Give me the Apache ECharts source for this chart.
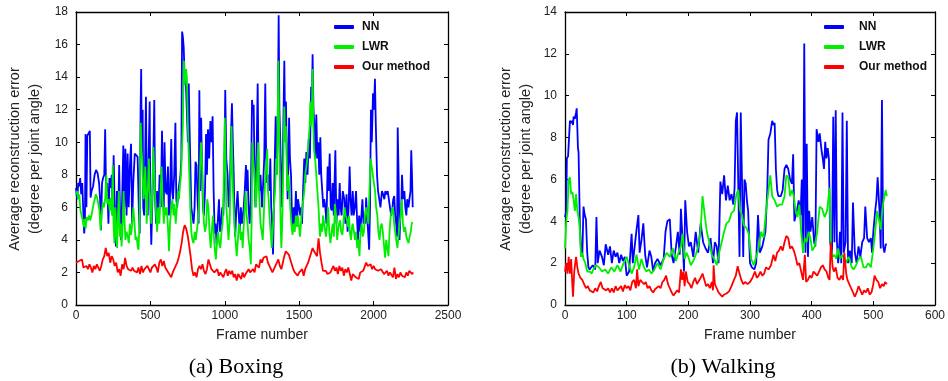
<!DOCTYPE html>
<html>
<head>
<meta charset="utf-8">
<script src="https://cdn.jsdelivr.net/npm/echarts@6/dist/echarts.min.js"></script>
<style>
html,body{margin:0;padding:0;background:#fff;}
#chart{width:948px;height:381px;}
</style>
</head>
<body>
<div id="chart"></div>
<script>
// ---------- Data ----------
const seriesNames = ['NN', 'LWR', 'Our method'];
const boxingXTicks = [0, 500, 1000, 1500, 2000, 2500];
const boxingYTicks = [0, 2, 4, 6, 8, 10, 12, 14, 16, 18];
const walkingXTicks = [0, 100, 200, 300, 400, 500, 600];
const walkingYTicks = [0, 2, 4, 6, 8, 10, 12, 14];

// Boxing: [frame, error]
const boxingNN = [[0,7.2],[8,6.5],[15,7.5],[22,7.3],[28,7.8],[35,6.8],[42,7.5],[48,6],[55,4.4],[60,5],[64,10.5],[70,6],[76,10.4],[85,10.5],[93,10.7],[98,6.6],[105,7],[115,7.3],[125,8],[135,8.3],[145,8.1],[155,7.5],[162,6.5],[168,4.6],[175,7.5],[182,7.8],[190,8],[196,10.8],[202,7],[210,7.5],[218,5],[225,7.8],[232,7.2],[240,8],[248,5.5],[253,9.2],[260,6],[268,3.6],[275,7],[283,5],[290,8.6],[296,5.5],[302,4],[310,6.5],[318,9.8],[325,6],[332,9.6],[340,5.5],[347,9.3],[354,6],[362,8.5],[370,9.9],[377,5],[385,7.5],[395,9.3],[405,9.2],[414,9.1],[422,6],[428,4.4],[434,12],[438,14.5],[442,9],[448,12],[452,6],[458,5.5],[463,8],[470,12.8],[476,7],[482,5.5],[488,9],[495,12.5],[500,6],[506,3.7],[512,6],[518,8],[526,12.6],[532,6.5],[538,5],[545,7],[553,5.5],[562,8],[570,6],[578,10.7],[585,7],[590,6],[595,10],[602,7],[610,6.8],[618,8.5],[624,5.5],[630,6],[640,10.2],[646,7],[652,6.5],[660,8],[668,11.2],[674,6.5],[680,6],[688,7],[695,7.5],[702,8],[708,9],[713,16.8],[718,16.5],[724,15.8],[730,14],[738,13.8],[746,13.7],[752,10],[758,13.6],[763,11],[770,8],[775,6],[782,5.5],[790,5],[797,6],[803,8.8],[810,8.6],[817,6.5],[824,5],[829,13.2],[835,7],[841,11.5],[846,9],[853,6],[860,5.5],[867,7],[874,10.5],[880,8],[887,10.8],[895,9],[903,11.3],[910,10],[918,11.6],[925,7],[932,4.4],[938,5],[945,3.7],[952,5],[961,6.5],[968,4.5],[975,5],[983,6],[990,5.5],[997,8],[1003,13.2],[1010,9],[1019,8],[1026,6],[1033,6.5],[1040,10],[1048,12.4],[1054,10],[1060,8],[1066,5],[1070,4.2],[1078,6],[1086,7],[1094,5.5],[1100,4.5],[1108,6],[1115,5],[1122,5.5],[1127,6],[1134,7],[1142,8.6],[1148,7],[1153,8.3],[1160,6],[1167,5],[1175,6.5],[1183,12.6],[1188,12],[1194,12.3],[1200,8],[1206,6],[1213,9],[1221,13.6],[1227,8],[1233,7],[1240,8],[1250,6],[1258,7.5],[1265,9],[1272,13.6],[1278,9],[1285,7.5],[1292,8],[1300,7],[1306,9],[1312,6],[1318,5],[1324,3.1],[1330,6],[1336,9],[1342,11.6],[1348,8],[1355,10],[1362,17.8],[1367,12],[1373,10],[1378,8],[1384,6],[1390,9],[1395,12],[1400,15],[1405,11],[1411,12.5],[1417,9],[1422,6.5],[1428,9],[1432,11.5],[1438,9],[1445,8],[1450,6],[1456,4.6],[1463,6],[1470,5],[1478,7],[1485,5],[1492,6.5],[1500,6.5],[1507,5.5],[1513,6],[1519,5],[1526,7],[1534,9],[1541,7.5],[1548,9.4],[1556,8],[1564,10.2],[1572,9],[1580,13.4],[1585,12],[1590,15.4],[1596,12],[1602,11],[1608,9],[1615,11.7],[1622,9],[1628,10],[1635,8],[1642,10.3],[1648,8],[1655,7],[1662,6],[1668,6.5],[1676,6],[1683,5],[1691,8.5],[1697,7],[1705,9.3],[1712,6],[1718,5.8],[1725,7.5],[1732,5.5],[1743,9.5],[1750,5],[1758,6.5],[1765,5.5],[1772,7.5],[1778,6],[1785,5.5],[1793,7],[1803,6.5],[1810,5],[1818,6.8],[1825,4.5],[1832,6],[1839,8.5],[1845,6.5],[1852,5.5],[1860,7],[1866,5.5],[1874,6],[1882,7],[1888,5.5],[1895,4],[1903,5.5],[1911,4.5],[1918,5.5],[1925,6.5],[1932,5],[1940,5.5],[1944,5],[1950,6.6],[1956,5.5],[1963,4.5],[1970,3.4],[1976,6],[1982,12],[1988,10],[1996,13],[2003,12],[2009,13.9],[2015,11],[2023,8],[2030,7],[2038,6.5],[2046,6],[2056,7],[2064,6.8],[2072,6.5],[2079,7],[2088,6.8],[2095,7],[2101,6.6],[2110,6],[2118,5.5],[2125,5.8],[2132,6.5],[2139,6.7],[2145,5.5],[2152,5],[2158,4.2],[2162,10.9],[2168,8],[2174,4],[2180,5.5],[2186,6],[2191,8],[2198,6.5],[2207,7],[2213,6],[2220,5.5],[2226,6.5],[2234,6],[2242,6.6],[2248,7],[2253,9.5],[2258,8],[2263,6]];

const boxingLWR = [[0,6.8],[8,7],[15,6.5],[22,6.8],[30,5.8],[38,5.5],[45,5.2],[52,4.8],[58,5.3],[65,4.7],[72,5.4],[80,5.2],[88,5.5],[95,5.2],[102,5.4],[110,5.8],[118,6.2],[126,6.5],[134,6.8],[142,6.6],[150,6.2],[158,5.8],[165,4.6],[172,5.5],[180,6.3],[188,6],[196,6.5],[204,8],[210,6.2],[218,6.5],[226,5.8],[234,6.6],[242,5.5],[247,8.6],[252,5],[258,3.8],[264,6],[270,4.5],[276,3.5],[282,5.5],[288,7],[294,4.2],[300,5],[306,3.6],[312,4.5],[320,7],[326,5.2],[332,4],[340,4.5],[348,4.2],[355,3.8],[362,5],[370,4.3],[378,5],[385,6],[392,5.2],[400,4],[408,4.2],[414,3.6],[420,3.4],[427,5],[435,11.2],[440,9.5],[445,9],[450,7.5],[455,6.5],[460,7.2],[465,8.5],[470,7],[475,5],[480,6.5],[486,8],[490,9],[495,7],[500,6.5],[505,5],[510,6],[515,8],[520,9.7],[525,8.5],[530,7],[536,6],[545,4.5],[552,6],[560,5],[567,6.5],[575,8.5],[582,6.5],[590,5],[597,6],[604,5.5],[610,6],[617,5],[625,3.3],[632,5],[640,6],[648,6.5],[655,5.5],[662,6.2],[670,5],[678,6],[685,7],[692,6.5],[700,7.5],[706,8],[712,8],[718,11],[725,15],[730,13.5],[735,13.5],[740,14.5],[745,14],[752,11],[760,8.5],[768,6],[775,4.5],[782,4],[790,3.8],[798,4.5],[805,4],[810,4],[818,5],[825,6],[832,8],[840,10],[845,9],[850,8],[855,6],[860,5],[868,4.5],[875,5],[882,6.5],[890,6],[897,4.5],[905,3.5],[912,4.5],[920,5.5],[928,4],[935,3.2],[940,2.8],[948,4],[955,4.5],[962,3.8],[970,3.5],[978,4.5],[985,5],[992,7],[1000,11.5],[1005,9],[1010,6],[1018,5],[1025,4],[1032,5],[1040,8],[1045,11],[1050,9],[1055,7],[1060,6],[1065,5],[1072,4],[1080,3],[1088,4],[1095,5],[1100,4.8],[1108,4],[1115,4.5],[1120,3.5],[1128,5],[1134,6],[1140,7],[1147,5.5],[1153,5],[1160,4],[1168,3.5],[1175,2.5],[1180,5],[1185,10],[1190,9],[1195,8.5],[1200,8],[1208,6],[1215,7],[1220,9],[1225,10],[1230,7],[1235,6],[1240,5],[1248,4.5],[1255,4],[1262,5.5],[1270,7.5],[1278,8.5],[1285,9.6],[1290,7],[1295,6.5],[1300,5.5],[1308,4.5],[1315,3.5],[1322,4.5],[1330,6],[1338,7],[1345,9],[1350,8],[1355,11],[1360,15],[1365,11],[1370,8],[1375,5],[1380,3.5],[1386,5],[1392,8],[1400,12.2],[1405,10],[1410,11],[1415,9.5],[1420,7],[1428,8],[1434,7],[1440,6],[1447,5],[1455,4.3],[1462,5],[1470,4.5],[1478,5.5],[1485,4.8],[1490,5.5],[1497,5],[1505,4.2],[1512,5],[1520,6],[1528,6.5],[1534,7],[1540,8],[1548,8.5],[1555,9],[1562,10],[1570,11],[1575,12.5],[1580,11],[1585,12],[1590,14.5],[1595,11],[1600,9.5],[1607,9],[1615,8],[1622,7],[1630,6],[1635,5],[1640,4.2],[1648,5],[1655,4.5],[1660,5.5],[1668,5],[1675,4.5],[1680,4.2],[1688,5],[1695,6],[1702,4.5],[1710,3.8],[1718,4.5],[1725,5],[1733,4.2],[1740,6.2],[1748,5.5],[1755,4],[1760,4.5],[1768,5],[1775,5.2],[1782,4.5],[1790,4.3],[1797,5],[1805,6],[1812,5.5],[1820,5.3],[1828,4.8],[1835,5.5],[1840,4.5],[1848,4],[1855,4.8],[1860,5],[1868,4.5],[1875,4],[1882,4.5],[1890,3.5],[1897,4],[1905,3],[1912,4.5],[1920,5],[1927,4.2],[1935,4.5],[1942,5.5],[1950,6],[1957,5.5],[1965,5],[1972,7],[1980,9],[1987,8.5],[1995,8],[2002,7.5],[2010,7],[2017,6],[2025,5.5],[2032,4.5],[2040,4],[2047,4.8],[2055,5],[2062,4.5],[2070,4.5],[2077,2.9],[2085,4],[2092,3.5],[2100,3],[2107,4.5],[2115,5.5],[2122,5.8],[2130,6],[2138,5],[2145,4.5],[2152,4],[2160,3.5],[2167,4.2],[2175,5],[2182,5.5],[2190,6.5],[2197,5],[2205,4.5],[2212,4.8],[2220,4.2],[2227,4],[2235,3.8],[2242,4.2],[2250,4.5],[2256,5],[2262,5.1]];

const boxingOurs = [[0,2.6],[10,2.5],[20,2.7],[30,2.6],[40,2.8],[50,2.3],[60,2.2],[70,2.4],[80,2.2],[90,2.5],[100,2.3],[110,2.0],[120,2.4],[130,2.2],[140,2.5],[150,2.3],[160,2.1],[170,2.4],[180,2.8],[190,3.0],[200,3.5],[210,3.0],[220,3.2],[230,2.6],[240,3.0],[250,2.8],[260,2.4],[270,2.6],[280,2.0],[290,2.2],[300,1.8],[310,2.5],[320,2.2],[330,2.9],[340,2.4],[350,2.2],[360,2.3],[370,2.1],[380,2.3],[390,2.1],[400,2.2],[410,2.0],[420,2.3],[430,1.9],[440,2.4],[450,2.0],[460,2.2],[470,2.1],[480,2.4],[490,2.2],[500,2.0],[510,2.3],[520,2.2],[530,2.5],[540,2.3],[550,2.0],[560,2.6],[570,2.8],[580,2.4],[590,2.7],[600,2.3],[610,2.2],[620,2.0],[630,1.9],[640,1.7],[650,2.0],[660,2.1],[670,2.4],[680,2.6],[690,2.9],[700,3.3],[710,3.8],[720,4.5],[730,4.9],[740,4.7],[750,4.3],[760,3.7],[770,3.0],[780,2.2],[790,1.8],[800,2.0],[810,1.7],[820,2.2],[830,2.4],[840,2.2],[850,2.5],[860,2.1],[870,1.9],[880,2.2],[890,2.8],[900,2.7],[910,2.2],[920,2.3],[930,2.0],[940,1.9],[950,2.2],[960,1.8],[970,2.0],[980,2.1],[990,1.7],[1000,2.0],[1010,2.2],[1020,1.8],[1030,2.1],[1040,1.9],[1050,2.1],[1060,1.7],[1070,1.9],[1080,1.5],[1090,1.9],[1100,1.8],[1110,1.6],[1120,2.0],[1130,1.7],[1140,1.9],[1150,1.8],[1160,2.2],[1170,2.0],[1180,1.9],[1190,2.2],[1200,2.0],[1210,2.5],[1220,2.6],[1230,2.3],[1240,2.8],[1250,2.6],[1260,2.9],[1270,2.8],[1280,3.0],[1290,2.6],[1300,2.4],[1310,2.2],[1320,2.0],[1330,2.2],[1340,2.3],[1350,2.6],[1360,2.8],[1370,2.4],[1380,2.2],[1390,2.6],[1400,3.0],[1410,3.3],[1420,3.4],[1430,3.1],[1440,2.8],[1450,2.5],[1460,2.2],[1470,2.0],[1480,2.1],[1490,1.8],[1500,2.0],[1510,1.9],[1520,2.2],[1530,1.8],[1540,2.2],[1550,2.4],[1560,2.6],[1570,2.9],[1580,3.2],[1590,3.5],[1600,3.3],[1610,3.4],[1620,3.0],[1630,4.1],[1640,3.2],[1650,2.6],[1660,2.1],[1670,2.0],[1680,2.1],[1690,1.9],[1700,2.0],[1710,2.0],[1720,2.2],[1730,2.4],[1740,2.1],[1750,2.3],[1760,1.9],[1770,2.4],[1780,2.1],[1790,2.3],[1800,1.8],[1810,2.2],[1820,2.0],[1830,2.3],[1840,1.9],[1850,1.5],[1860,1.9],[1870,2.0],[1880,1.7],[1890,1.8],[1900,1.6],[1910,2.0],[1920,1.9],[1930,2.1],[1940,2.0],[1950,2.6],[1960,2.4],[1970,2.3],[1980,2.5],[1990,2.2],[2000,2.4],[2010,2.2],[2020,2.3],[2030,2.1],[2040,2.0],[2050,2.2],[2060,2.1],[2070,1.9],[2080,2.0],[2090,2.1],[2100,1.8],[2110,2.0],[2120,1.9],[2130,1.7],[2140,2.3],[2150,1.6],[2160,1.9],[2170,1.7],[2180,2.0],[2190,1.8],[2200,1.9],[2210,1.7],[2220,2.0],[2230,1.8],[2240,2.1],[2250,2.0],[2260,1.9],[2265,2.0]];

// Walking: [frame, error]
const walkingNN = [[0,4.2],[2,4.5],[3,7],[5,7.1],[7,7.1],[8,8.8],[10,8.7],[12,8.8],[13,8.6],[14,9],[16,8.9],[18,9.2],[19,9.4],[21,7.5],[22,7.3],[24,4],[26,2.5],[28,2.3],[30,4.7],[32,4.3],[34,4.1],[36,2.5],[38,1.8],[40,1.7],[45,1.9],[49,1.7],[51,4.2],[53,2],[56,2.6],[60,2.3],[63,1.9],[66,2.9],[70,2.4],[73,2.8],[76,2],[79,2.6],[82,2.3],[85,2.5],[88,2],[91,2.4],[94,2.1],[97,2.3],[100,1.4],[104,1.6],[108,3.4],[110,2],[113,2.8],[116,3.6],[119,4.3],[121,2.5],[124,3.1],[127,3.9],[130,2.4],[133,1.8],[137,2.6],[140,2.3],[143,1.6],[146,2],[150,2.2],[155,1.9],[160,2.2],[163,3.5],[166,4],[170,4.1],[173,2.4],[176,2],[180,2.8],[183,3.5],[186,2.4],[188,4.6],[191,2.9],[193,1.6],[195,5],[198,3.5],[201,2.8],[204,3],[208,2.3],[212,3.5],[216,2.5],[220,3.9],[224,3],[228,2.7],[232,2.5],[236,3.2],[240,2],[243,3],[246,2.8],[249,2],[252,5.9],[255,5.3],[258,6.2],[261,5],[264,5.7],[267,5],[270,5.3],[273,4.8],[275,5.6],[277,8.8],[279,9.2],[281,9.2],[283,2.3],[285,9.2],[287,6],[289,2.3],[291,6],[293,5.8],[295,5],[297,4.5],[300,2],[303,1.8],[307,1.7],[310,2],[313,4.3],[316,2.5],[320,2.8],[325,3.5],[328,5.5],[330,7.9],[333,8.2],[336,8.8],[338,8.6],[340,8.7],[342,6.5],[344,5.5],[346,5.2],[350,5.2],[353,5.5],[356,6.5],[359,6.7],[362,6.5],[365,6],[368,5.8],[370,7.2],[372,4],[376,4.5],[379,5],[382,4.3],[384,6],[386,2.5],[388,12.5],[390,2.5],[392,7.7],[394,2.3],[396,4.5],[398,3.5],[401,4.2],[404,3],[406,2.8],[408,8.4],[411,7.8],[413,8.2],[416,7.4],[418,7],[420,6.5],[422,7.8],[424,7],[426,7.5],[428,7],[430,3],[433,2.5],[435,9],[437,3],[439,9.3],[441,3],[443,2],[446,3.5],[448,2],[450,9.2],[452,2.5],[455,3],[457,8.8],[459,2],[462,2.6],[465,2],[467,4.9],[470,2.5],[473,2],[476,2.8],[479,2.3],[482,3],[485,3.2],[487,4.7],[490,3.2],[493,3],[496,3.2],[498,2.5],[500,3.5],[503,4.5],[505,5],[507,6.1],[510,4.5],[512,2.7],[514,9.8],[516,2.8],[518,2.5],[520,2.9],[522,2.9]];

const walkingLWR = [[0,2.7],[2,4],[4,4.5],[6,6],[8,6.1],[10,5.3],[12,5.4],[14,5],[16,4.5],[18,5.3],[20,4.5],[22,4.2],[24,3.6],[26,2.3],[28,2.5],[30,2.2],[33,2],[36,1.6],[40,1.6],[43,1.5],[46,1.7],[50,1.9],[55,1.8],[60,1.6],[65,1.7],[70,1.5],[75,1.8],[80,1.6],[85,1.9],[90,1.6],[95,2],[100,2.3],[104,1.9],[108,1.5],[112,1.8],[116,2.4],[120,1.7],[124,2.2],[128,1.8],[132,1.6],[136,1.7],[140,1.5],[145,1.7],[150,2],[155,1.7],[160,2.2],[165,2.5],[170,2.3],[175,2.7],[180,2.1],[184,2.5],[188,2.8],[191,3.4],[194,2.2],[197,2.5],[200,2.3],[204,1.9],[208,2.1],[212,2.4],[216,2.8],[220,3.6],[223,5.2],[227,4.2],[230,3.5],[234,3],[238,2.4],[242,2.2],[246,1.9],[250,2.5],[254,3],[258,3.5],[262,3.9],[266,4],[270,4.4],[274,4.5],[278,5.3],[281,5.5],[284,4.5],[287,4.3],[290,3.8],[294,3.7],[298,3.4],[302,2.2],[306,1.9],[310,2.3],[314,2.7],[318,3.5],[322,3.2],[326,4.5],[330,5.5],[333,6.2],[336,5.2],[340,5],[344,4.7],[348,4.8],[352,4.8],[356,5.2],[359,6.2],[362,6.1],[365,5.2],[368,5.5],[371,5.2],[374,4.5],[377,4.2],[380,4.8],[383,3.5],[386,2.5],[389,3.2],[392,3],[395,3.5],[398,3.2],[401,2.6],[405,2.8],[409,3.5],[413,4.7],[417,4.6],[421,4.2],[425,4.5],[429,5.6],[431,2.8],[434,2.3],[437,2.4],[440,2.2],[443,2.7],[446,2.2],[450,2.4],[455,2],[460,2.3],[465,1.8],[468,1.7],[472,1.9],[476,2.2],[480,2.3],[484,1.8],[488,1.8],[492,2],[496,1.8],[500,2.7],[503,3.5],[506,4.5],[509,4.1],[512,3.6],[515,4.7],[518,4.7],[520,5.5],[522,5.2]];

const walkingOurs = [[0,1.6],[2,2],[4,1.5],[6,2.3],[8,1.5],[10,2.2],[12,0.9],[13,0.4],[15,1.6],[17,2.1],[18,2.3],[20,1.8],[22,1.5],[25,1.3],[28,1.2],[31,1],[34,0.8],[37,0.9],[40,0.7],[43,0.75],[46,0.6],[49,0.8],[52,0.65],[55,0.9],[58,1.1],[61,0.8],[64,0.75],[67,0.7],[70,0.8],[73,0.6],[76,0.8],[79,0.6],[82,0.9],[85,0.7],[88,0.75],[91,0.9],[94,0.65],[97,0.95],[100,0.8],[103,0.9],[106,0.7],[109,1.1],[112,1.2],[115,0.8],[117,1.7],[119,0.9],[122,1.2],[125,1.1],[128,1.0],[131,1.1],[134,0.8],[137,0.9],[140,0.7],[143,0.6],[146,0.75],[149,0.7],[152,0.9],[155,0.8],[158,1.1],[161,1.2],[164,1.4],[167,1.0],[170,0.8],[173,0.6],[176,0.45],[179,0.5],[182,0.7],[185,0.6],[188,1.7],[190,1.2],[192,1.6],[194,0.9],[196,1.6],[199,1.1],[202,1.0],[205,0.8],[208,1.1],[211,1.3],[214,1.0],[217,1.0],[220,1.3],[223,1.5],[226,1.2],[229,0.9],[232,1.0],[235,0.8],[238,1.1],[240,0.7],[241,1.9],[243,1.0],[246,0.8],[249,0.6],[252,0.5],[255,0.4],[258,0.5],[262,0.55],[266,0.65],[270,0.9],[274,1.2],[277,1.4],[280,1.85],[283,1.5],[286,1.2],[289,1.0],[292,1.1],[296,1.0],[300,1.1],[304,1.3],[308,1.6],[311,1.3],[314,1.4],[317,1.6],[320,1.4],[323,1.5],[326,1.8],[330,1.7],[334,1.9],[338,2.4],[341,2.1],[344,2.5],[347,2.6],[350,2.8],[353,2.6],[356,3.0],[359,3.3],[362,3.2],[365,2.7],[368,2.8],[371,2.6],[374,2.3],[377,1.9],[380,2.0],[383,1.6],[386,1.2],[389,2.4],[391,1.1],[394,1.2],[397,1.4],[400,1.3],[403,1.6],[406,1.5],[409,1.4],[412,1.6],[415,1.8],[418,1.9],[421,1.7],[424,1.6],[427,1.3],[429,1.2],[431,3.0],[434,1.8],[436,1.6],[439,1.8],[442,1.3],[445,1.2],[448,1.4],[451,1.2],[453,2.5],[456,1.5],[458,1.2],[461,1.0],[464,0.8],[467,0.6],[470,0.4],[473,0.6],[476,0.9],[479,0.7],[482,0.5],[485,0.7],[488,0.6],[491,0.8],[494,0.5],[497,0.6],[500,1.0],[502,1.4],[505,1.2],[508,1.1],[511,0.8],[514,1.0],[517,0.9],[519,1.1],[522,1.0]];

// ---------- Chart ----------
const SANS = '"Liberation Sans", Arial, Helvetica, sans-serif';
const SERIF = '"Liberation Serif", "Times New Roman", serif';
const colors = ['#0000ff', '#00ee00', '#ff0000'];

function mkX(gridIndex, ticks, pos, withLabels) {
  const step = ticks[1] - ticks[0];
  return {
    type: 'value', gridIndex: gridIndex, position: pos,
    min: ticks[0], max: ticks[ticks.length - 1], interval: step,
    axisLine: { show: true, onZero: false, lineStyle: { color: '#000', width: 1.3 } },
    axisTick: { show: true, inside: true, length: 4, lineStyle: { color: '#000', width: 1 } },
    axisLabel: { show: withLabels, fontFamily: SANS, fontSize: 12, color: '#222', margin: 5,
                 formatter: function (v) { return String(v); } },
    splitLine: { show: false },
    name: withLabels ? 'Frame number' : '',
    nameLocation: 'middle', nameGap: 23,
    nameTextStyle: { fontFamily: SANS, fontSize: 14, color: '#222' }
  };
}
function mkY(gridIndex, ticks, pos, withLabels) {
  const step = ticks[1] - ticks[0];
  return {
    type: 'value', gridIndex: gridIndex, position: pos,
    min: ticks[0], max: ticks[ticks.length - 1], interval: step,
    axisLine: { show: true, onZero: false, lineStyle: { color: '#000', width: 1.3 } },
    axisTick: { show: true, inside: true, length: 4, lineStyle: { color: '#000', width: 1 } },
    axisLabel: { show: withLabels, fontFamily: SANS, fontSize: 12, color: '#222', margin: 8,
                 formatter: function (v) { return String(v); } },
    splitLine: { show: false }
  };
}
function mkLine(name, data, idx, colorIdx) {
  return {
    type: 'line', name: name, data: data,
    xAxisIndex: idx, yAxisIndex: idx,
    showSymbol: false, symbol: 'none', smooth: false,
    lineStyle: { color: colors[colorIdx], width: 1.8 },
    itemStyle: { color: colors[colorIdx] },
    z: 2 + colorIdx
  };
}
function mkLegend(left, textPad) {
  return {
    left: left, top: 21, orient: 'vertical', padding: 0,
    icon: 'roundRect', itemWidth: 20, itemHeight: 4, itemGap: 8,
    data: seriesNames,
    textStyle: { fontFamily: SANS, fontSize: 12, fontWeight: 'bold', color: '#111', padding: [0, 0, 0, textPad] }
  };
}

const chart = echarts.init(document.getElementById('chart'), null, { renderer: 'canvas' });
chart.setOption({
  animation: false,
  backgroundColor: '#fff',
  grid: [
    { left: 76, top: 12, width: 372, height: 293, show: false },
    { left: 565, top: 12, width: 374, height: 293, show: false }
  ],
  xAxis: [
    mkX(0, boxingXTicks, 'bottom', true),
    mkX(1, walkingXTicks, 'bottom', true),
    mkX(0, boxingXTicks, 'top', false),
    mkX(1, walkingXTicks, 'top', false)
  ],
  yAxis: [
    mkY(0, boxingYTicks, 'left', true),
    mkY(1, walkingYTicks, 'left', true),
    mkY(0, boxingYTicks, 'right', false),
    mkY(1, walkingYTicks, 'right', false)
  ],
  legend: [mkLegend(334, 3), mkLegend(824, 10)],
  series: [
    mkLine(seriesNames[0], boxingNN, 0, 0),
    mkLine(seriesNames[1], boxingLWR, 0, 1),
    mkLine(seriesNames[2], boxingOurs, 0, 2),
    mkLine(seriesNames[0], walkingNN, 1, 0),
    mkLine(seriesNames[1], walkingLWR, 1, 1),
    mkLine(seriesNames[2], walkingOurs, 1, 2)
  ],
  graphic: [
    { type: 'text', x: 15, y: 159, rotation: Math.PI / 2,
      style: { text: 'Average reconstruction error', font: '14.5px ' + SANS, fill: '#222', align: 'center', verticalAlign: 'middle' } },
    { type: 'text', x: 35, y: 159, rotation: Math.PI / 2,
      style: { text: '(degree per joint angle)', font: '14.5px ' + SANS, fill: '#222', align: 'center', verticalAlign: 'middle' } },
    { type: 'text', x: 506, y: 159, rotation: Math.PI / 2,
      style: { text: 'Average reconstruction error', font: '14.5px ' + SANS, fill: '#222', align: 'center', verticalAlign: 'middle' } },
    { type: 'text', x: 526, y: 159, rotation: Math.PI / 2,
      style: { text: '(degree per joint angle)', font: '14.5px ' + SANS, fill: '#222', align: 'center', verticalAlign: 'middle' } },
    { type: 'text', x: 236, y: 367,
      style: { text: '(a) Boxing', font: '22px ' + SERIF, fill: '#000', align: 'center', verticalAlign: 'middle' } },
    { type: 'text', x: 723, y: 367,
      style: { text: '(b) Walking', font: '22px ' + SERIF, fill: '#000', align: 'center', verticalAlign: 'middle' } }
  ]
});
</script>
</body>
</html>
